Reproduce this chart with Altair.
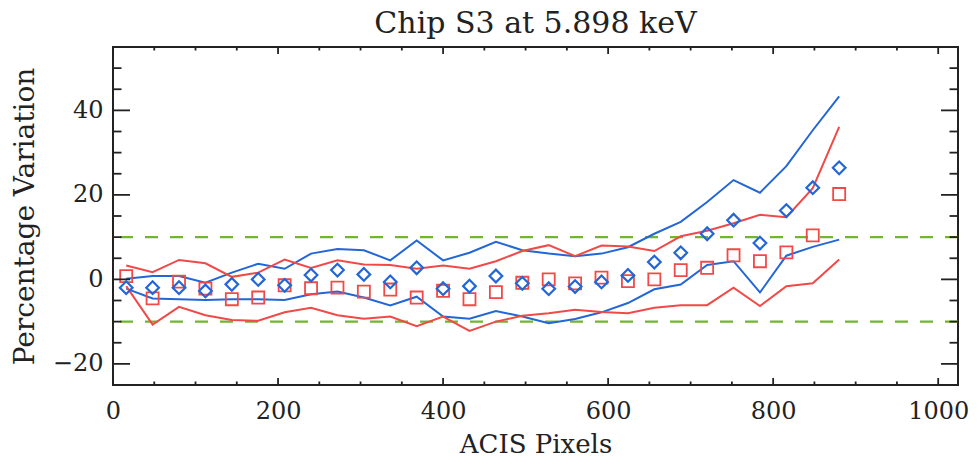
import altair as alt
import pandas as pd

# ---- data ----
x_pix = [16, 48, 80, 112, 144, 176, 208, 240, 272, 304, 336, 368, 400, 432,
         464, 496, 528, 560, 592, 624, 656, 688, 720, 752, 784, 816, 848, 880]

blue_diamond = [-1.96, -1.96, -1.96, -2.75, -1.18, 0.0, -1.41, 1.02, 2.2, 1.18,
                -0.6, 2.75, -2.2, -1.6, 0.8, -0.94, -2.2, -1.7, -0.6, 0.94,
                4.1, 6.3, 10.8, 14.0, 8.6, 16.3, 21.7, 26.4]
red_square = [0.78, -4.5, -0.55, -2.2, -4.7, -4.3, -1.4, -2.1, -1.96, -2.9,
              -2.4, -4.3, -2.7, -4.7, -3.0, -0.8, 0.0, -0.94, 0.4, -0.4,
              0.0, 2.2, 2.75, 5.7, 4.3, 6.4, 10.4, 20.2]
blue_upper = [0.15, 0.8, 0.8, -0.8, 1.6, 3.7, 2.5, 6.1, 7.2, 6.9,
              4.5, 9.2, 4.5, 6.3, 8.9, 6.9, 6.1, 5.5, 6.1, 7.6,
              10.8, 13.6, 18.3, 23.5, 20.5, 26.8, 35.3, 43.3]
blue_lower = [-2.2, -4.5, -4.7, -4.9, -4.7, -4.7, -4.9, -3.5, -2.9, -4.3,
              -6.2, -4.1, -8.8, -9.3, -7.5, -8.8, -10.4, -9.4, -7.8, -5.6,
              -2.35, -1.2, 3.4, 4.3, -3.1, 5.6, 7.7, 9.4]
red_upper = [3.3, 1.7, 4.6, 3.8, 0.6, 1.6, 4.7, 2.7, 4.5, 3.5,
             3.4, 2.5, 3.3, 2.5, 4.3, 6.7, 8.1, 5.5, 8.0, 7.8,
             6.7, 10.2, 11.5, 13.3, 15.3, 14.7, 21.6, 36.1]
red_lower = [-1.6, -10.7, -6.5, -8.5, -9.6, -9.8, -7.8, -6.7, -8.5, -9.3,
             -8.8, -11.1, -8.8, -12.2, -10.0, -8.6, -8.0, -7.2, -7.7, -8.0,
             -6.7, -6.1, -6.1, -1.96, -6.3, -1.6, -0.94, 4.7]
limit_lines = [10, -10]

x_major = [0, 200, 400, 600, 800, 1000]
x_minor = [50, 100, 150, 250, 300, 350, 450, 500, 550, 650, 700, 750, 850, 900, 950]
y_major = [-20, 0, 20, 40]
y_minor = [-15, -10, -5, 5, 10, 15, 25, 30, 35, 45, 50]
x_domain = [0, 1024]
y_domain = [-25, 55]

title_text = "Chip S3 at 5.898 keV"
x_title = "ACIS Pixels"
y_title = "Percentage Variation"

BLUE = "#2366d6"
RED = "#f04a48"
GREEN = "#72b52e"
INK = "#222222"
FONT = "DejaVu Serif"
W, H = 845, 338

# ---- tables ----
rows = []
for name, grp, vals in [("blue_upper", "blue", blue_upper),
                        ("blue_lower", "blue", blue_lower),
                        ("red_upper", "red", red_upper),
                        ("red_lower", "red", red_lower)]:
    for xv, yv in zip(x_pix, vals):
        rows.append({"x": xv, "y": yv, "series": name, "grp": grp})
lines_df = pd.DataFrame(rows)
pts_df = pd.DataFrame({"x": x_pix, "diamond": blue_diamond, "square": red_square})
lim_df = pd.DataFrame({"y": limit_lines})

xs = alt.Scale(domain=x_domain, nice=False, zero=False)
ys = alt.Scale(domain=y_domain, nice=False, zero=False)

left_axis = alt.Axis(values=y_major, domain=False, grid=False, ticks=False, tickSize=0,
                     labelFont=FONT, labelFontSize=24, labelColor=INK, labelPadding=10,
                     labelFlush=False, format="d",
                     title=y_title, titleFont=FONT, titleFontSize=28,
                     titleFontWeight="normal", titleColor=INK, titlePadding=13)
bottom_axis = alt.Axis(values=x_major, domain=False, grid=False, ticks=False, tickSize=0,
                       labelFont=FONT, labelFontSize=24, labelColor=INK, labelPadding=14,
                       labelFlush=False, format="d",
                       title=x_title, titleFont=FONT, titleFontSize=26,
                       titleFontWeight="normal", titleColor=INK, titlePadding=8)

lines = alt.Chart(lines_df).mark_line(strokeWidth=2).encode(
    x=alt.X("x:Q", scale=xs, axis=bottom_axis),
    y=alt.Y("y:Q", scale=ys, axis=left_axis),
    color=alt.Color("grp:N", scale=alt.Scale(domain=["blue", "red"], range=[BLUE, RED]), legend=None),
    detail="series:N",
)

diamonds = alt.Chart(pts_df).mark_point(shape="diamond", size=160, strokeWidth=2.2,
                                        color=BLUE, filled=False, opacity=1).encode(
    x=alt.X("x:Q", scale=xs),
    y=alt.Y("diamond:Q", scale=ys),
)

squares = alt.Chart(pts_df).mark_point(shape="square", size=145, strokeWidth=1.8,
                                       color=RED, filled=False, opacity=1).encode(
    x=alt.X("x:Q", scale=xs),
    y=alt.Y("square:Q", scale=ys),
)

limits = alt.Chart(lim_df).mark_rule(color=GREEN, strokeWidth=2.2, strokeDash=[13, 12]).encode(
    y=alt.Y("y:Q", scale=ys),
)

# inward frame ticks (IDL style): positions from the tick lists through the scales
xmaj_df = pd.DataFrame({"t": x_major})
xmin_df = pd.DataFrame({"t": x_minor})
ymaj_df = pd.DataFrame({"t": y_major})
ymin_df = pd.DataFrame({"t": y_minor})

tick_style = dict(color=INK, strokeWidth=1.8)
XLEN, XLEN_MIN = 7, 3.5
YLEN, YLEN_MIN = 17, 8.5


def xticks(df, y0, y1):
    return alt.Chart(df).mark_rule(**tick_style).encode(
        x=alt.X("t:Q", scale=xs), y=alt.value(y0), y2=alt.value(y1))


def yticks(df, x0, x1):
    return alt.Chart(df).mark_rule(**tick_style).encode(
        y=alt.Y("t:Q", scale=ys), x=alt.value(x0), x2=alt.value(x1))


ticks = [
    xticks(xmaj_df, H, H - XLEN), xticks(xmin_df, H, H - XLEN_MIN),
    xticks(xmaj_df, 0, XLEN), xticks(xmin_df, 0, XLEN_MIN),
    yticks(ymaj_df, 0, YLEN), yticks(ymin_df, 0, YLEN_MIN),
    yticks(ymaj_df, W, W - YLEN), yticks(ymin_df, W, W - YLEN_MIN),
]

chart = alt.layer(limits, lines, squares, diamonds, *ticks).properties(
    width=W,
    height=H,
    padding={"left": 105, "top": 39, "right": 12, "bottom": 76},
    autosize=alt.AutoSizeParams(type="none"),
    title=alt.Title(title_text, font=FONT, fontSize=30, fontWeight="normal",
                    color=INK, anchor="middle", offset=7),
    background="white",
).configure_view(stroke=INK, strokeWidth=2)

chart.save("out.html", embed_options={"renderer": "svg", "actions": False})
